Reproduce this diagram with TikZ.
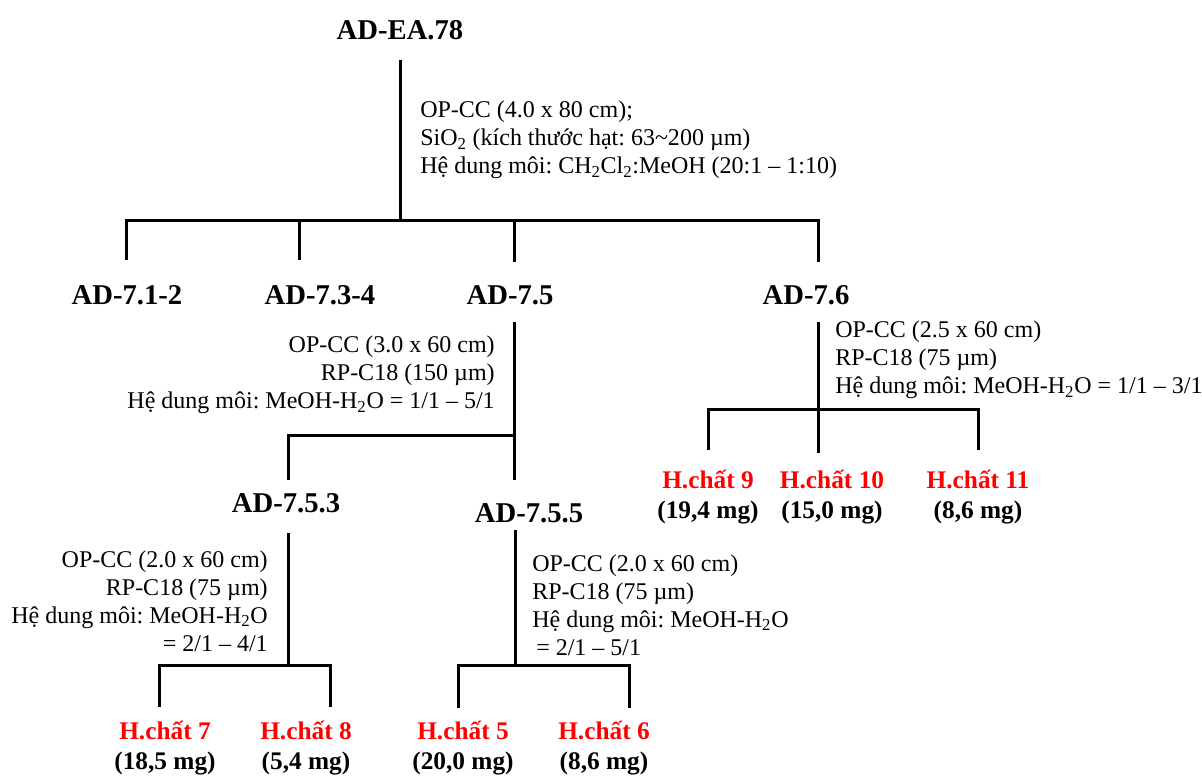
\documentclass[tikz,border=0pt]{standalone}
\usepackage{fontspec}
\setmainfont{Liberation Serif}
\frenchspacing
\begin{document}
\begin{tikzpicture}[x=0.75pt,y=-0.75pt,
  ln/.style={line width=2.25pt, line join=miter},
  adlabel/.style={font=\fontsize{21.5}{25}\selectfont\bfseries, inner sep=0pt},
  toplabel/.style={font=\fontsize{21.5}{25}\selectfont\bfseries, inner sep=0pt},
  info/.style={font=\fontsize{18}{21}\selectfont, inner sep=0pt},
  cmpd/.style={font=\fontsize{19}{22.5}\selectfont\bfseries, align=center, inner sep=0pt}]
\useasboundingbox (0,0) rectangle (1202,776);

% labels
\node[toplabel] (root) at (400,30) {AD-EA.78};
\node[adlabel] (a12) at (127,295) {AD-7.1-2};
\node[adlabel] (a34) at (320,295) {AD-7.3-4};
\node[adlabel] (a5) at (510,295) {AD-7.5};
\node[adlabel] (a6) at (806,295) {AD-7.6};
\node[adlabel] (a53) at (286,503) {AD-7.5.3};
\node[adlabel] (a55) at (529,513) {AD-7.5.5};

% compounds
\node[cmpd] (c7) at (165,748) {\textcolor{red}{H.chất 7}\\(18,5 mg)};
\node[cmpd] (c8) at (306,748) {\textcolor{red}{H.chất 8}\\(5,4 mg)};
\node[cmpd] (c5) at (463,748) {\textcolor{red}{H.chất 5}\\(20,0 mg)};
\node[cmpd] (c6) at (604,748) {\textcolor{red}{H.chất 6}\\(8,6 mg)};
\node[cmpd] (c9) at (708,497) {\textcolor{red}{H.chất 9}\\(19,4 mg)};
\node[cmpd] (c10) at (832,497) {\textcolor{red}{H.chất 10}\\(15,0 mg)};
\node[cmpd] (c11) at (978,497) {\textcolor{red}{H.chất 11}\\(8,6 mg)};

% info texts
\node[info, anchor=west, align=left] (t1) at (420,140)
  {OP-CC (4.0 x 80 cm);\\SiO\textsubscript{2} (kích thước hạt: 63\textasciitilde200 µm)\\Hệ dung môi: CH\textsubscript{2}Cl\textsubscript{2}:MeOH (20:1 – 1:10)};
\node[info, anchor=east, align=right] (t2) at (495,375)
  {OP-CC (3.0 x 60 cm)\\RP-C18 (150 µm)\\Hệ dung môi: MeOH-H\textsubscript{2}O = 1/1 – 5/1};
\node[info, anchor=east, align=right] (t3) at (268,601)
  {OP-CC (2.0 x 60 cm)\\RP-C18 (75 µm)\\Hệ dung môi: MeOH-H\textsubscript{2}O\\= 2/1 – 4/1};
\node[info, anchor=west, align=left] (t4) at (532,605)
  {OP-CC (2.0 x 60 cm)\\RP-C18 (75 µm)\\Hệ dung môi: MeOH-H\textsubscript{2}O\\\hspace*{3pt}= 2/1 – 5/1};
\node[info, anchor=west, align=left] (t5) at (835,360)
  {OP-CC (2.5 x 60 cm)\\RP-C18 (75 µm)\\Hệ dung môi: MeOH-H\textsubscript{2}O = 1/1 – 3/1};

% junction coordinates
\coordinate (r0) at (400,60);
\coordinate (r1) at (400,220);
\coordinate (b1) at (126,220);
\coordinate (b2) at (299,220);
\coordinate (b3) at (514,220);
\coordinate (b4) at (818,220);
\coordinate (d1) at (126,260);
\coordinate (d2) at (299,260);
\coordinate (d3) at (514,262);
\coordinate (d4) at (818,262);

\coordinate (e0) at (514,322);
\coordinate (e1) at (514,435);
\coordinate (e2) at (514,480);
\coordinate (e3) at (288,435);
\coordinate (e4) at (288,480);

\coordinate (f0) at (288,533);
\coordinate (f1) at (288,665);
\coordinate (f2) at (159,665);
\coordinate (f3) at (330,665);
\coordinate (f4) at (159,707);
\coordinate (f5) at (330,707);

\coordinate (g0) at (515,530);
\coordinate (g1) at (515,665);
\coordinate (g2) at (458,665);
\coordinate (g3) at (629,665);
\coordinate (g4) at (458,708);
\coordinate (g5) at (629,708);

\coordinate (h0) at (818,322);
\coordinate (h1) at (818,453);
\coordinate (h2) at (708,409);
\coordinate (h3) at (978,409);
\coordinate (h4) at (708,450);
\coordinate (h5) at (978,450);

% connectors
\draw[ln] (r0) -- (r1);
\draw[ln] (d1) -- (b1) -- (b4) -- (d4);
\draw[ln] (b2) -- (d2);
\draw[ln] (b3) -- (d3);

\draw[ln] (e0) -- (e2);
\draw[ln] (e1) -- (e3) -- (e4);

\draw[ln] (f0) -- (f1);
\draw[ln] (f4) -- (f2) -- (f3) -- (f5);

\draw[ln] (g0) -- (g1);
\draw[ln] (g4) -- (g2) -- (g3) -- (g5);

\draw[ln] (h0) -- (h1);
\draw[ln] (h4) -- (h2) -- (h3) -- (h5);
\end{tikzpicture}
\end{document}
